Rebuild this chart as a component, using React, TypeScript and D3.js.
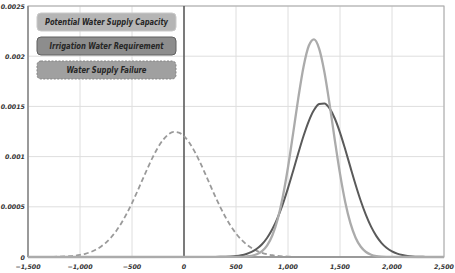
import React from "react";
import * as d3 from "d3";

const xTicks = [-1500, -1000, -500, 0, 500, 1000, 1500, 2000, 2500];
const yTicks = [0, 0.0005, 0.001, 0.0015, 0.002, 0.0025];
const yTickLabels = ["0", "0.0005", "0.001", "0.0015", "0.002", "0.0025"];
const seriesNames = ["Potential Water Supply Capacity", "Irrigation Water Requirement", "Water Supply Failure"];

const supplyX = [-1500, 500, 550, 600, 650, 700, 750, 800, 850, 900, 950, 1000, 1050, 1100, 1150, 1200, 1250, 1300, 1350, 1400, 1450, 1500, 1550, 1600, 1650, 1700, 1750, 1800, 1850, 1900, 1950, 2000, 2500];
const supplyY = [0, 0.0000006, 0.0000017, 0.0000047, 0.0000116, 0.000027, 0.0000582, 0.0001164, 0.0002166, 0.0003738, 0.0005997, 0.0008934, 0.0012364, 0.0015894, 0.0018974, 0.002104, 0.0021672, 0.0020733, 0.0018421, 0.0015204, 0.0011655, 0.0008299, 0.0005487, 0.0003371, 0.0001923, 0.0001019, 0.0000501, 0.0000229, 0.0000097, 0.0000038, 0.0000014, 0.0000005, 0];

const irrigX = [-1500, 300, 350, 400, 450, 500, 550, 600, 650, 700, 750, 800, 850, 900, 950, 1000, 1050, 1100, 1150, 1200, 1250, 1300, 1350, 1400, 1450, 1500, 1550, 1600, 1650, 1700, 1750, 1800, 1850, 1900, 1950, 2000, 2050, 2100, 2150, 2200, 2250, 2300, 2350, 2400, 2500];
const irrigY = [0, 0.0000006, 0.0000013, 0.0000026, 0.000005, 0.0000094, 0.000017, 0.0000298, 0.0000502, 0.0000815, 0.0001274, 0.0001922, 0.0002791, 0.0003908, 0.0005274, 0.0006857, 0.0008592, 0.0010375, 0.0012075, 0.0013541, 0.0014635, 0.0015242, 0.0015299, 0.0014798, 0.0013794, 0.0012391, 0.0010727, 0.0008949, 0.0007195, 0.0005574, 0.0004162, 0.0002995, 0.0002077, 0.0001388, 0.0000894, 0.0000555, 0.0000332, 0.0000191, 0.0000106, 0.0000057, 0.0000029, 0.0000015, 0.0000007, 0.0000003, 0];

const failX = [-1500, -1450, -1400, -1350, -1300, -1250, -1200, -1150, -1100, -1050, -1000, -950, -900, -850, -800, -750, -700, -650, -600, -550, -500, -450, -400, -350, -300, -250, -200, -150, -100, -50, 0, 50, 100, 150, 200, 250, 300, 350, 400, 450, 500, 550, 600, 650, 700, 750, 800, 850, 900, 950, 1000, 1050, 1100, 1200, 2500];
const failY = [0.0000001, 0.0000001, 0.0000003, 0.0000005, 0.0000009, 0.0000017, 0.0000029, 0.0000049, 0.0000081, 0.0000132, 0.0000209, 0.0000323, 0.0000487, 0.0000716, 0.0001027, 0.0001439, 0.0001967, 0.0002623, 0.0003415, 0.0004338, 0.0005377, 0.0006505, 0.0007679, 0.0008848, 0.0009948, 0.0010916, 0.0011687, 0.0012212, 0.0012453, 0.0012393, 0.0012035, 0.0011405, 0.0010548, 0.000952, 0.0008385, 0.0007207, 0.0006045, 0.0004949, 0.0003953, 0.0003082, 0.0002345, 0.0001741, 0.0001261, 0.0000892, 0.0000615, 0.0000414, 0.0000272, 0.0000175, 0.0000109, 0.0000067, 0.000004, 0.0000023, 0.0000013, 0.0000004, 0];

export default function App() {
  const W = 455, H = 273;
  const left = 28, right = 444, top = 6, bottom = 257;
  const x = d3.scaleLinear().domain([-1500, 2500]).range([left, right]);
  const y = d3.scaleLinear().domain([0, 0.0025]).range([bottom, top]);
  const line = d3.line<[number, number]>()
    .x((d) => x(d[0]))
    .y((d) => y(d[1]))
    .curve(d3.curveMonotoneX);
  const zip = (a: number[], b: number[]) => a.map((v, i) => [v, b[i]] as [number, number]);
  const fmt = d3.format(",");
  const font = "'DejaVu Sans', sans-serif";

  const legend = [
    { name: seriesNames[0], y: 13, fill: "#b5b5b5", stroke: "#c9c9c9", dash: undefined, tl: 123 },
    { name: seriesNames[1], y: 37, fill: "#8d8d8d", stroke: "#606060", dash: undefined, tl: 114 },
    { name: seriesNames[2], y: 61, fill: "#a0a0a0", stroke: "#858585", dash: "2,1.5", tl: 80 },
  ];

  return (
    <svg width={W} height={H} style={{ position: "absolute", left: 0, top: 0, background: "#fff" }}>
      {xTicks.map((t) => (
        <line key={"gx" + t} x1={x(t)} x2={x(t)} y1={top} y2={bottom} stroke="#dedede" strokeWidth={1} />
      ))}
      {yTicks.map((t) => (
        <line key={"gy" + t} x1={left} x2={right} y1={y(t)} y2={y(t)} stroke="#dedede" strokeWidth={1} />
      ))}
      <rect x={left} y={top} width={right - left} height={bottom - top} fill="none" stroke="#a8a8a8" strokeWidth={1} />
      <line x1={left} x2={left} y1={top} y2={bottom} stroke="#8a8a8a" strokeWidth={1.5} />
      <line x1={left} x2={right} y1={bottom} y2={bottom} stroke="#8a8a8a" strokeWidth={1.5} />
      <line x1={x(0)} x2={x(0)} y1={top} y2={bottom} stroke="#555" strokeWidth={1.5} />

      <path d={line(zip(failX, failY)) || ""} fill="none" stroke="#9a9a9a" strokeWidth={1.8} strokeDasharray="5,3" />
      <path d={line(zip(irrigX, irrigY)) || ""} fill="none" stroke="#5a5a5a" strokeWidth={2} />
      <path d={line(zip(supplyX, supplyY)) || ""} fill="none" stroke="#ababab" strokeWidth={2.3} />

      {yTicks.map((t, i) => (
        <text key={"ly" + t} x={left - 3} y={y(t) + 2.5} textAnchor="end" fontFamily={font} fontSize={6.3}
          fontStyle="italic" fontWeight="bold" fill="#333">{yTickLabels[i]}</text>
      ))}
      {xTicks.map((t) => (
        <text key={"lx" + t} x={x(t)} y={269} textAnchor="middle" fontFamily={font} fontSize={6.3}
          fontStyle="italic" fontWeight="bold" fill="#333">{fmt(t)}</text>
      ))}

      {legend.map((l) => (
        <g key={l.name}>
          <rect x={37} y={l.y} width={139} height={18} rx={4} ry={4} fill={l.fill} stroke={l.stroke}
            strokeWidth={1} strokeDasharray={l.dash} />
          <text x={106.5 - l.tl / 2} y={l.y + 12.3} fontFamily={font} fontSize={8}
            fontStyle="italic" fontWeight="bold" fill="#262626"
            textLength={l.tl} lengthAdjust="spacingAndGlyphs">{l.name}</text>
        </g>
      ))}
    </svg>
  );
}
